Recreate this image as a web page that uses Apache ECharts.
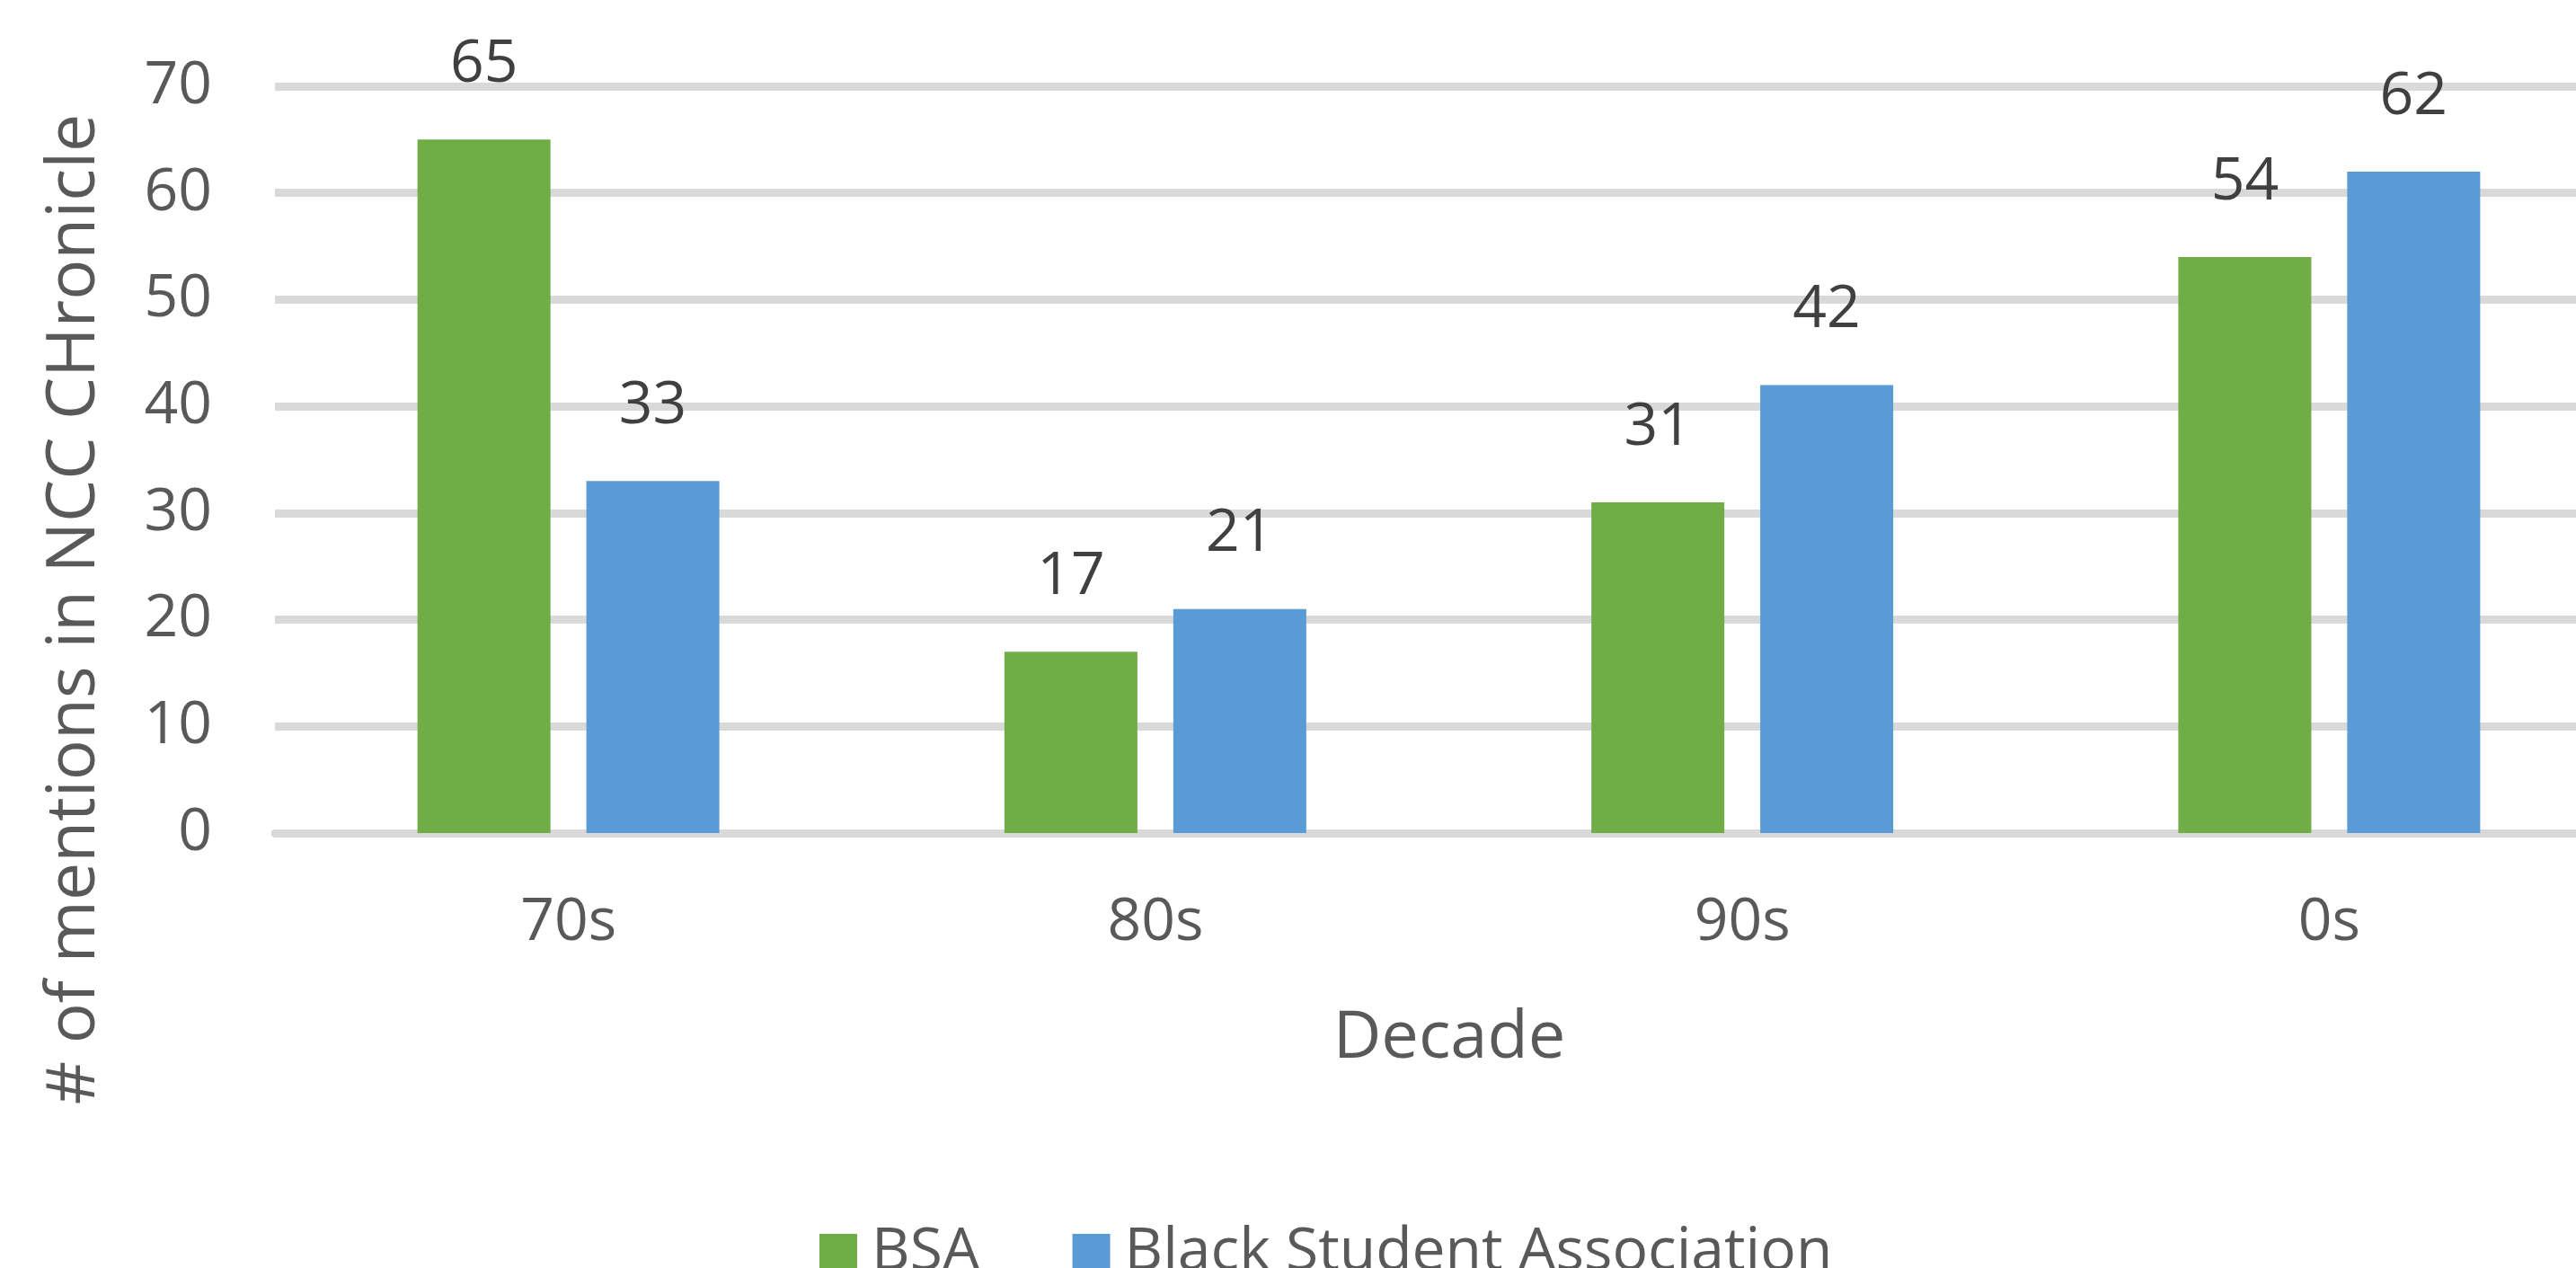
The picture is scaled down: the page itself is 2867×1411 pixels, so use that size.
<!DOCTYPE html>
<html>
<head>
<meta charset="utf-8">
<script src="https://cdn.jsdelivr.net/npm/echarts@6/dist/echarts.min.js"></script>
<style>
  html, body { margin: 0; padding: 0; background: #fff; }
  #chart { width: 2867px; height: 1411px; }
</style>
</head>
<body>
<div id="chart"></div>
<script>
// 数据
const decades = ['70s', '80s', '90s', '0s'];
const bsaValues = [65, 17, 31, 54];
const blackStudentValues = [33, 21, 42, 62];
const yTicks = [0, 10, 20, 30, 40, 50, 60, 70];

const FONT = '"Open Sans", "Noto Sans", sans-serif';

const chart = echarts.init(document.getElementById('chart'));

// 柱顶数值标签
const labelStyle = {
    show: true,
    position: 'top',
    distance: 50,
    color: '#404040',
    fontFamily: FONT,
    fontSize: 66
};

const option = {
    animation: false,
    grid: { left: 306, right: -52, top: 96, bottom: 484, outerBoundsMode: 'none', containLabel: false },
    legend: {
        data: ['BSA', 'Black Student Association'],
        left: 907,
        top: 1356,
        itemWidth: 42,
        itemHeight: 42,
        itemGap: 103,
        icon: 'rect',
        textStyle: { color: '#595959', fontFamily: FONT, fontSize: 66, padding: [0, 0, 0, 11] }
    },
    graphic: [
        {
            type: 'text',
            x: 84,
            y: 678,
            rotation: Math.PI / 2,
            style: {
                text: '# of mentions in NCC CHronicle',
                fill: '#595959',
                font: '75px ' + FONT,
                textAlign: 'center',
                textVerticalAlign: 'middle'
            }
        },
        {
            type: 'text',
            x: 1613,
            y: 1156,
            style: {
                text: 'Decade',
                fill: '#595959',
                font: '74px ' + FONT,
                textAlign: 'center',
                textVerticalAlign: 'middle'
            }
        }
    ],
    xAxis: {
        type: 'category',
        data: decades,
        axisLine: { show: true, lineStyle: { color: '#d9d9d9', width: 9 } },
        axisTick: { show: false },
        axisLabel: { color: '#595959', fontFamily: FONT, fontSize: 66, margin: 67 }
    },
    yAxis: {
        type: 'value',
        min: yTicks[0],
        max: yTicks[yTicks.length - 1],
        interval: 10,
        axisLine: { show: false },
        axisTick: { show: false },
        axisLabel: { color: '#595959', fontFamily: FONT, fontSize: 66, margin: 70 },
        splitLine: { lineStyle: { color: '#d9d9d9', width: 9 } }
    },
    series: [
        {
            name: 'BSA',
            type: 'bar',
            data: bsaValues,
            barWidth: 148,
            barGap: '27%',
            itemStyle: { color: '#70ad47' },
            label: labelStyle
        },
        {
            name: 'Black Student Association',
            type: 'bar',
            data: blackStudentValues,
            barWidth: 148,
            barGap: '27%',
            itemStyle: { color: '#5b9bd5' },
            label: labelStyle
        }
    ]
};

chart.setOption(option);
</script>
</body>
</html>
